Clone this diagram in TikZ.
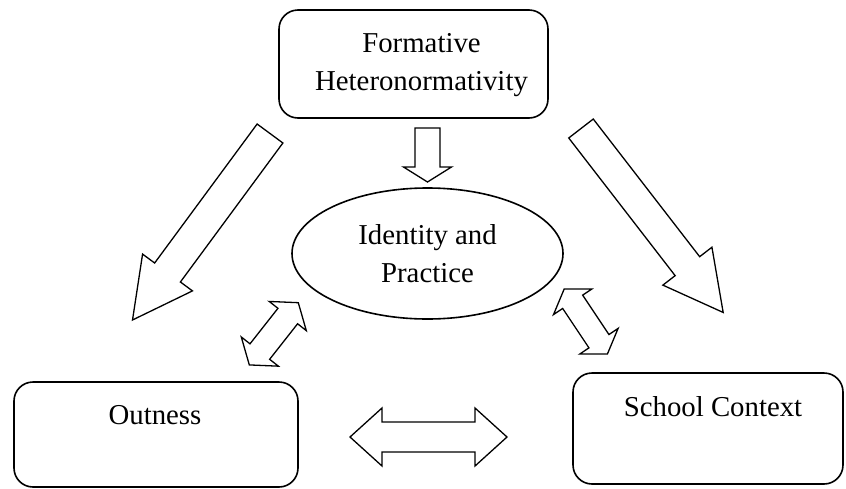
\documentclass[tikz,border=0pt]{standalone}
\usepackage{fontspec}
\setmainfont{Liberation Serif}
\usetikzlibrary{shapes.geometric}
\tikzset{
  boxline/.style={draw=black, line width=1.6pt},
  rbox/.style={boxline, rounded corners=19pt, inner sep=0pt},
  oval/.style={boxline, ellipse, inner sep=0pt, align=center, font=\fontsize{28.8}{38}\selectfont},
  lbl/.style={inner sep=0pt, align=center, font=\fontsize{28.8}{38}\selectfont},
  arrowline/.style={draw=black, fill=white, line width=1.3pt, line join=miter},
}
% single block arrow: tail coordinate, angle, shaft length, shaft half width, head half width, head length
\newcommand\blockone[6]{%
  \begin{scope}[shift={(#1)},rotate=#2]
    \draw[arrowline] (0,-#4) -- (#3,-#4) -- (#3,-#5) -- ({#3+#6},0) -- (#3,#5) -- (#3,#4) -- (0,#4) -- cycle;
  \end{scope}}
% double block arrow: centre coordinate, angle, half length, head length, head half width, shaft half width
\newcommand\blocktwo[6]{%
  \begin{scope}[shift={(#1)},rotate=#2]
    \draw[arrowline] (-#3,0) -- ({-#3+#4},#5) -- ({-#3+#4},#6) -- ({#3-#4},#6) -- ({#3-#4},#5) -- (#3,0)
      -- ({#3-#4},-#5) -- ({#3-#4},-#6) -- ({-#3+#4},-#6) -- ({-#3+#4},-#5) -- cycle;
  \end{scope}}
\begin{document}
\begin{tikzpicture}[x=1pt,y=-1pt]
\useasboundingbox (0,0) rectangle (846,488);
% boxes
\node[rbox, minimum width=269pt, minimum height=108pt] (top) at (413.5,64) {};
\node[lbl] (toptext) at ([xshift=8pt,yshift=-1pt]top.center) {Formative\\Heteronormativity};
\node[oval, minimum width=271pt, minimum height=131pt] (mid) at (427.5,253.5) {Identity and\\Practice};
\node[rbox, minimum width=284pt, minimum height=105pt] (out) at (156,434.5) {};
\node[lbl] (outtext) at (155,415) {Outness};
\node[rbox, minimum width=270pt, minimum height=111pt] (school) at (708,428.5) {};
\node[lbl] (schooltext) at (713,407) {School Context};
% arrow anchors
\coordinate (aL) at (270,133.5);
\coordinate (aR) at (581,128.5);
\coordinate (aD) at (427.5,128);
\coordinate (dB) at (428.5,437);
\coordinate (dL) at (273.8,333.8);
\coordinate (dR) at (585.8,321.5);
% block arrows
\blockone{aL}{-126.4}{172.7}{16}{31}{59}
\blockone{aR}{-52.3}{174}{15.5}{31}{58.5}
\blockone{aD}{-90}{39}{12.5}{24}{15}
\blocktwo{dB}{0}{78.5}{32}{29}{15}
\blocktwo{dL}{51.8}{39.6}{17}{23.6}{12.5}
\blocktwo{dR}{-56.3}{39}{15.3}{23}{12}
\end{tikzpicture}
\end{document}
